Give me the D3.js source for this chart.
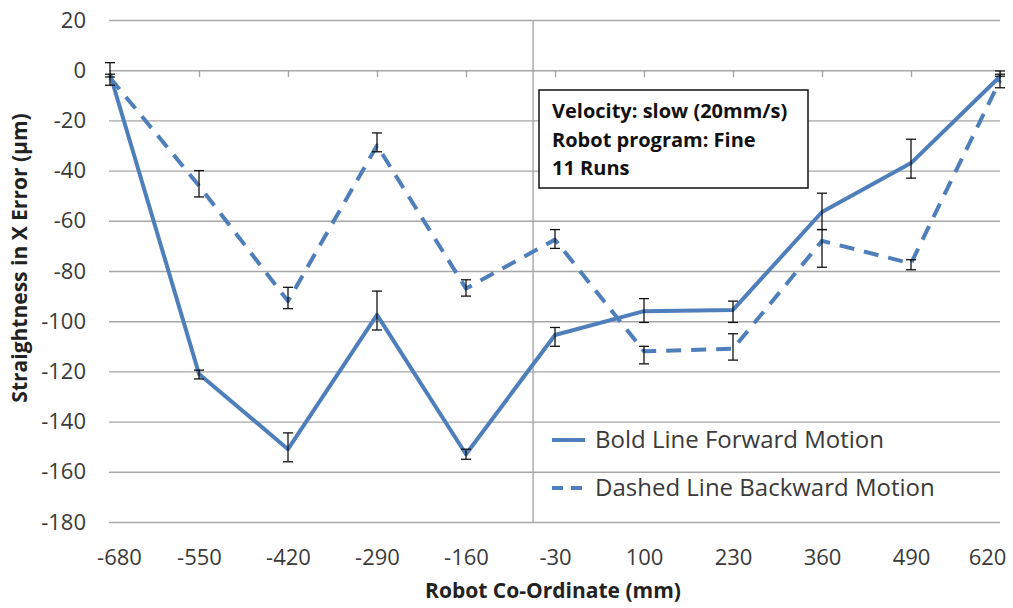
<!DOCTYPE html>
<html>
<head>
<meta charset="utf-8">
<script src="https://cdn.jsdelivr.net/npm/d3@7"></script>
<style>
  html, body { margin: 0; padding: 0; background: #fff; }
  svg { display: block; }
</style>
</head>
<body>
<svg id="chart" width="1013" height="608"></svg>
<script>
// Robot x-coordinates (mm) where straightness was measured
const positions = [-680, -550, -420, -290, -160, -30, 100, 230, 360, 490, 620];

// Forward motion (bold line): mean straightness error and error-bar limits (µm)
const forwardMean = [-1.5, -121, -151, -97.5, -153, -105.5, -96, -95.5, -56.5, -37, -2.5];
const forwardHigh = [3, -119.5, -144.5, -88, -151, -102.5, -91, -92, -49, -27.5, -0.3];
const forwardLow  = [-2.7, -123, -156, -103.5, -155, -110, -100.5, -100.5, -63.5, -43, -2.4];

// Backward motion (dashed line)
const backwardMean = [-3, -46, -92, -30, -87, -67.5, -112, -111, -68, -77, -4];
const backwardHigh = [-1.6, -40, -86.5, -25, -83.5, -63.5, -110, -105, -63.5, -75.5, -1.6];
const backwardLow  = [-6, -50.5, -95, -32.5, -90, -71, -117, -115.5, -78.5, -79.5, -7];

// Axis ticks
const yTicks = [20, 0, -20, -40, -60, -80, -100, -120, -140, -160, -180];
const xTicks = positions;
const verticalAxisAt = -62;

const legendLabels = ["Bold Line Forward Motion", "Dashed Line Backward Motion"];
const noteLines = ["Velocity: slow (20mm/s)", "Robot program: Fine", "11 Runs"];
const xTitle = "Robot Co-Ordinate (mm)";
const yTitle = "Straightness in X Error (µm)";

const svg = d3.select("#chart");
const font = "'Open Sans', 'Noto Sans', sans-serif";
const lineColor = "#4f7fbb";
const gridColor = "#a6a6a6";
const textColor = "#3a3a3a";
const fmt = d => String(d); // plain hyphen-minus

const x = d3.scaleLinear().domain([-680, 620]).range([110, 1000]);
const y = d3.scaleLinear().domain([-180, 20]).range([522, 20]);
const plotLeft = 109, plotRight = 1000;

// Horizontal gridlines with value labels on the left
const yAxis = d3.axisLeft(y).tickValues(yTicks).tickSize(-(plotRight - plotLeft)).tickPadding(23).tickFormat(fmt);
const gy = svg.append("g").attr("transform", `translate(${plotLeft},0)`).call(yAxis);
gy.select(".domain").remove();
gy.selectAll(".tick line").attr("stroke", gridColor).attr("stroke-width", 1.4);
gy.selectAll(".tick text").attr("font-family", font).attr("font-size", 22).attr("fill", textColor);

// Vertical axis line
svg.append("line")
  .attr("x1", x(verticalAxisAt)).attr("x2", x(verticalAxisAt))
  .attr("y1", y(20)).attr("y2", y(-180))
  .attr("stroke", gridColor).attr("stroke-width", 1.4);

// Tick marks on the zero line
const xAxisTicks = d3.axisBottom(x).tickValues(xTicks).tickSize(7).tickFormat("");
const gx = svg.append("g").attr("transform", `translate(0,${y(0)})`).call(xAxisTicks);
gx.select(".domain").remove();
gx.selectAll(".tick line").attr("stroke", gridColor).attr("stroke-width", 1.4);

// Category labels along the bottom; the two end labels are nudged inward to stay on the page
const xLabels = d3.axisBottom(x).tickValues(xTicks).tickSize(0).tickPadding(0).tickFormat(fmt);
const gxl = svg.append("g").attr("transform", `translate(0,${y(-180) + 27})`).call(xLabels);
gxl.select(".domain").remove();
gxl.selectAll(".tick text").attr("font-family", font).attr("font-size", 22).attr("fill", textColor)
  .attr("x", (d, i, n) => i === 0 ? 9 : (i === n.length - 1 ? -13 : 0));

// Series lines
const line = d3.line().x(d => x(d[0])).y(d => y(d[1]));
const fwd = positions.map((p, i) => [p, forwardMean[i]]);
const bwd = positions.map((p, i) => [p, backwardMean[i]]);

svg.append("path").datum(bwd).attr("d", line)
  .attr("fill", "none").attr("stroke", lineColor).attr("stroke-width", 4)
  .attr("stroke-dasharray", "15,10").attr("stroke-linejoin", "round");
svg.append("path").datum(fwd).attr("d", line)
  .attr("fill", "none").attr("stroke", lineColor).attr("stroke-width", 4)
  .attr("stroke-linejoin", "round");

// Error bars
function errorBars(high, low) {
  const g = svg.append("g").attr("stroke", "#111").attr("stroke-width", 1.3);
  positions.forEach((p, i) => {
    const cx = x(p), y1 = y(high[i]), y2 = y(low[i]);
    g.append("line").attr("x1", cx).attr("x2", cx).attr("y1", y1).attr("y2", y2);
    g.append("line").attr("x1", cx - 5).attr("x2", cx + 5).attr("y1", y1).attr("y2", y1);
    g.append("line").attr("x1", cx - 5).attr("x2", cx + 5).attr("y1", y2).attr("y2", y2);
  });
}
errorBars(forwardHigh, forwardLow);
errorBars(backwardHigh, backwardLow);

// Note box
const box = svg.append("g").attr("transform", "translate(539,90)");
box.append("rect").attr("width", 269).attr("height", 98)
  .attr("fill", "#fff").attr("stroke", "#111").attr("stroke-width", 1.5);
box.selectAll("text").data(noteLines).join("text")
  .attr("x", 13).attr("y", (d, i) => 21 + i * 28.5).attr("dy", "0.35em")
  .attr("font-family", font).attr("font-weight", "bold").attr("font-size", 20)
  .attr("fill", "#111").text(d => d);

// Legend
const legend = svg.append("g").attr("transform", "translate(552,440)");
legendLabels.forEach((label, i) => {
  const gy0 = i * 48;
  legend.append("line").attr("x1", 0).attr("x2", 33).attr("y1", gy0).attr("y2", gy0)
    .attr("stroke", lineColor).attr("stroke-width", 4)
    .attr("stroke-dasharray", i === 1 ? "11,8" : null);
  legend.append("text").attr("x", 43).attr("y", gy0).attr("dy", "0.35em")
    .attr("font-family", font).attr("font-size", 24).attr("fill", textColor).text(label);
});

// Axis titles
svg.append("text").attr("x", 553).attr("y", 598).attr("text-anchor", "middle")
  .attr("font-family", font).attr("font-weight", "bold").attr("font-size", 21)
  .attr("fill", "#222").text(xTitle);
svg.append("text").attr("transform", "translate(27,258) rotate(-90)").attr("text-anchor", "middle")
  .attr("font-family", font).attr("font-weight", "bold").attr("font-size", 21)
  .attr("fill", "#222").text(yTitle);
</script>
</body>
</html>
